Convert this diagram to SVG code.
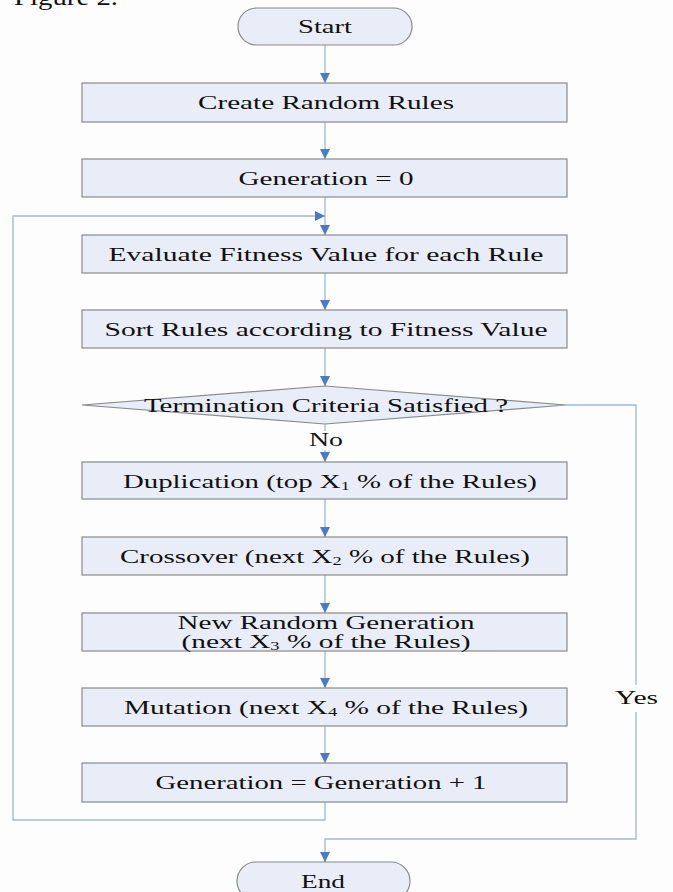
<svg xmlns="http://www.w3.org/2000/svg" width="673" height="892" viewBox="0 0 673 892">
<style>
.box{fill:#e8edf7;stroke:#8a8a8a;stroke-width:1.2}
.t{font-family:"Liberation Serif","Times New Roman",serif;font-size:19px;fill:#111;text-anchor:middle}
.c{fill:none;stroke:#9fb9da;stroke-width:1.3}
</style>
<defs>
<marker id="ah" viewBox="0 0 10 10" refX="10" refY="5" markerWidth="10" markerHeight="10" markerUnits="userSpaceOnUse" orient="auto">
<path d="M0,0 L10,5 L0,10 Z" fill="#4a7bc6"/>
</marker>
</defs>
<rect width="673" height="892" fill="#fdfdfd"/>
<text x="14" y="5" style="font-family:'Liberation Serif',serif;font-size:24px;fill:#111" textLength="104" lengthAdjust="spacingAndGlyphs">Figure 2.</text>

<g id="connectors">
<line class="c" x1="325" y1="45" x2="325" y2="83" marker-end="url(#ah)"/>
<line class="c" x1="325" y1="122" x2="325" y2="159" marker-end="url(#ah)"/>
<line class="c" x1="325" y1="197" x2="325" y2="235" marker-end="url(#ah)"/>
<line class="c" x1="325" y1="273" x2="325" y2="310" marker-end="url(#ah)"/>
<line class="c" x1="325" y1="348" x2="325" y2="386" marker-end="url(#ah)"/>
<line class="c" x1="325" y1="424" x2="325" y2="431"/>
<line class="c" x1="325" y1="450" x2="325" y2="462" marker-end="url(#ah)"/>
<line class="c" x1="325" y1="499" x2="325" y2="537" marker-end="url(#ah)"/>
<line class="c" x1="325" y1="575" x2="325" y2="613" marker-end="url(#ah)"/>
<line class="c" x1="325" y1="651" x2="325" y2="688" marker-end="url(#ah)"/>
<line class="c" x1="325" y1="726" x2="325" y2="763" marker-end="url(#ah)"/>
<polyline class="c" points="325,802 325,820 13,820 13,216 325,216" marker-end="url(#ah)"/>
<polyline class="c" points="566,405 636,405 636,685"/>
<polyline class="c" points="636,712 636,839 325,839 325,862" marker-end="url(#ah)"/>
<text class="t" x="326" y="446" textLength="34" lengthAdjust="spacingAndGlyphs">No</text>
<text class="t" x="636.5" y="704" textLength="43" lengthAdjust="spacingAndGlyphs">Yes</text>
</g>

<g id="start">
<rect class="box" x="238" y="8" width="174" height="37" rx="18.5"/>
<text class="t" x="325" y="33" textLength="54" lengthAdjust="spacingAndGlyphs">Start</text>
</g>
<g id="create">
<rect class="box" x="82" y="83" width="485" height="39"/>
<text class="t" x="326" y="109" textLength="256" lengthAdjust="spacingAndGlyphs">Create Random Rules</text>
</g>
<g id="gen0">
<rect class="box" x="82" y="159" width="485" height="38"/>
<text class="t" x="326" y="184.5" textLength="175" lengthAdjust="spacingAndGlyphs">Generation = 0</text>
</g>
<g id="evaluate">
<rect class="box" x="82" y="235" width="485" height="38"/>
<text class="t" x="326" y="260.5" textLength="435" lengthAdjust="spacingAndGlyphs">Evaluate Fitness Value for each Rule</text>
</g>
<g id="sort">
<rect class="box" x="82" y="310" width="485" height="38"/>
<text class="t" x="326" y="335.5" textLength="443" lengthAdjust="spacingAndGlyphs">Sort Rules according to Fitness Value</text>
</g>
<g id="decision">
<polygon class="box" points="82,405 325,386 566,405 325,424"/>
<text class="t" x="326" y="411.5" textLength="364" lengthAdjust="spacingAndGlyphs">Termination Criteria Satisfied ?</text>
</g>
<g id="duplication">
<rect class="box" x="82" y="462" width="485" height="37"/>
<text class="t" x="330" y="487.5" textLength="414" lengthAdjust="spacingAndGlyphs">Duplication (top X<tspan font-size="12" dy="2">1</tspan><tspan dy="-2"> % of the Rules)</tspan></text>
</g>
<g id="crossover">
<rect class="box" x="82" y="537" width="485" height="38"/>
<text class="t" x="325" y="562.5" textLength="410" lengthAdjust="spacingAndGlyphs">Crossover (next X<tspan font-size="12" dy="2">2</tspan><tspan dy="-2"> % of the Rules)</tspan></text>
</g>
<g id="newrandom">
<rect class="box" x="82" y="613" width="485" height="38"/>
<text class="t" x="326" y="628.5" textLength="297" lengthAdjust="spacingAndGlyphs">New Random Generation</text>
<text class="t" x="326" y="647.5" textLength="289" lengthAdjust="spacingAndGlyphs">(next X<tspan font-size="12" dy="2">3</tspan><tspan dy="-2"> % of the Rules)</tspan></text>
</g>
<g id="mutation">
<rect class="box" x="82" y="688" width="485" height="38"/>
<text class="t" x="326" y="713.5" textLength="404" lengthAdjust="spacingAndGlyphs">Mutation (next X<tspan font-size="12" dy="2">4</tspan><tspan dy="-2"> % of the Rules)</tspan></text>
</g>
<g id="genplus">
<rect class="box" x="82" y="763" width="485" height="39"/>
<text class="t" x="321" y="789" textLength="331" lengthAdjust="spacingAndGlyphs">Generation = Generation + 1</text>
</g>
<g id="end">
<rect class="box" x="237" y="862" width="173" height="38" rx="19"/>
<text class="t" x="323" y="887.5" textLength="44" lengthAdjust="spacingAndGlyphs">End</text>
</g>
</svg>
